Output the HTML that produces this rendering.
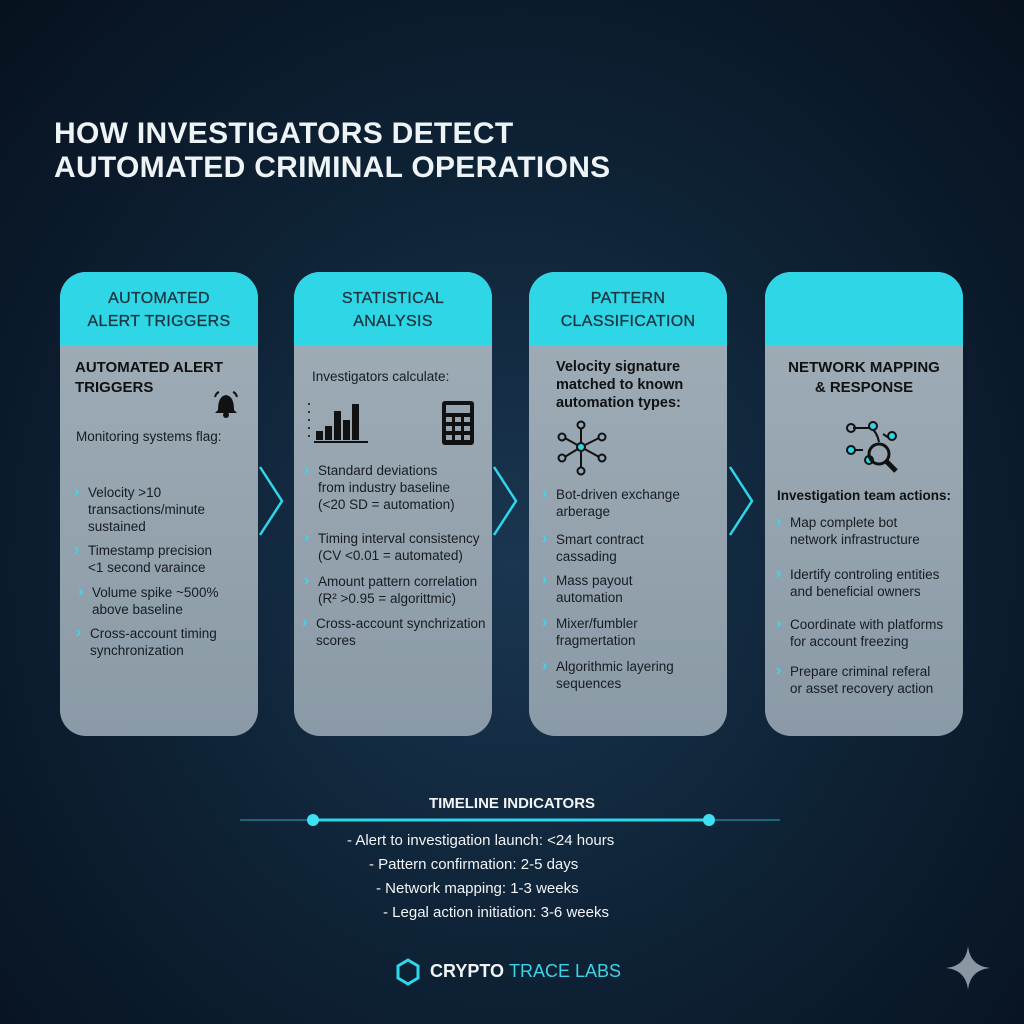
<!DOCTYPE html>
<html><head><meta charset="utf-8"><style>
*{margin:0;padding:0;box-sizing:border-box}
body{width:1024px;height:1024px;overflow:hidden;position:relative;font-family:"Liberation Sans",sans-serif;
background:radial-gradient(ellipse at 50% 55%,#1a3650 0%,#0f2438 45%,#07111e 100%);}
.t{position:absolute;white-space:nowrap}
.title{left:54px;color:#eef3f6;font-size:30px;font-weight:bold;letter-spacing:0.3px}
.card{position:absolute;top:272px;width:198px;height:464px;border-radius:26px;overflow:hidden;
background:linear-gradient(180deg,#a0aeb8 0%,#93a2ad 60%,#8a9aa6 100%)}
.hd{position:absolute;left:0;top:0;width:100%;height:73px;background:#2fd6e6;color:#1a3541;font-size:16px;text-align:center;line-height:23px;padding-top:15px;letter-spacing:.3px;-webkit-text-stroke:0.3px #1a3541}
.b{position:absolute;font-size:13.5px;color:#161c22;line-height:17px}
.b:before{content:"›";position:absolute;left:-14px;top:-1px;color:#3ad8f0;font-weight:bold;font-size:16px}
.n{position:absolute;font-size:13.5px;color:#161c22;line-height:17px}
.h{position:absolute;font-size:15px;font-weight:bold;color:#111;line-height:20px}
.tl{position:absolute;color:#f2f4f6;font-size:15px}
</style></head><body>
<div class="t title" style="top:117px">HOW INVESTIGATORS DETECT</div>
<div class="t title" style="top:151px">AUTOMATED CRIMINAL OPERATIONS</div>

<div class="card" style="left:60px">
 <div class="hd">AUTOMATED<br>ALERT TRIGGERS</div>
 <div class="h" style="left:15px;top:86px">AUTOMATED ALERT<br>TRIGGERS</div>
 <svg style="position:absolute;left:150px;top:116px" width="32" height="32" viewBox="0 0 32 32"><path d="M8 22 Q8 8 16 7 Q24 8 24 22 L27 25 L5 25 Z" fill="#111"/><circle cx="16" cy="27" r="3" fill="#111"/><path d="M5 9 Q6 5 9 4 M27 9 Q26 5 23 4" stroke="#111" stroke-width="2" fill="none"/></svg>
 <div class="n" style="left:16px;top:156px">Monitoring systems flag:</div>
 <div class="b" style="left:28px;top:212px">Velocity &gt;10<br>transactions/minute<br>sustained</div>
 <div class="b" style="left:28px;top:270px">Timestamp precision<br>&lt;1 second varaince</div>
 <div class="b" style="left:32px;top:312px">Volume spike ~500%<br>above baseline</div>
 <div class="b" style="left:30px;top:353px">Cross-account timing<br>synchronization</div>
</div>

<div class="card" style="left:294px">
 <div class="hd">STATISTICAL<br>ANALYSIS</div>
 <div class="n" style="left:18px;top:96px">Investigators calculate:</div>
 <svg style="position:absolute;left:12px;top:126px" width="62" height="48" viewBox="0 0 62 48"><g fill="#111"><rect x="10" y="33" width="7" height="9"/><rect x="19" y="28" width="7" height="14"/><rect x="28" y="13" width="7" height="29"/><rect x="37" y="22" width="7" height="20"/><rect x="46" y="6" width="7" height="36"/><rect x="8" y="43" width="56" height="2"/><circle cx="3" cy="6" r="1"/><circle cx="3" cy="14" r="1"/><circle cx="3" cy="22" r="1"/><circle cx="3" cy="30" r="1"/><circle cx="3" cy="38" r="1"/></g></svg>
 <svg style="position:absolute;left:147px;top:128px" width="34" height="46" viewBox="0 0 34 46"><rect x="1" y="1" width="32" height="44" rx="3" fill="#111"/><rect x="5" y="5" width="24" height="8" fill="#95a4af"/><g fill="#95a4af"><rect x="5" y="17" width="6" height="5"/><rect x="14" y="17" width="6" height="5"/><rect x="23" y="17" width="6" height="5"/><rect x="5" y="26" width="6" height="5"/><rect x="14" y="26" width="6" height="5"/><rect x="23" y="26" width="6" height="5"/><rect x="5" y="35" width="6" height="5"/><rect x="14" y="35" width="6" height="5"/><rect x="23" y="35" width="6" height="5"/></g></svg>
 <div class="b" style="left:24px;top:190px">Standard deviations<br>from industry baseline<br>(&lt;20 SD = automation)</div>
 <div class="b" style="left:24px;top:258px">Timing interval consistency<br>(CV &lt;0.01 = automated)</div>
 <div class="b" style="left:24px;top:301px">Amount pattern correlation<br>(R² &gt;0.95 = algorittmic)</div>
 <div class="b" style="left:22px;top:343px">Cross-account synchrization<br>scores</div>
</div>

<div class="card" style="left:529px">
 <div class="hd">PATTERN<br>CLASSIFICATION</div>
 <div class="h" style="left:27px;top:86px;font-size:14.5px;line-height:18px">Velocity signature<br>matched to known<br>automation types:</div>
 <svg style="position:absolute;left:28px;top:148px" width="54" height="56" viewBox="0 0 54 56"><g stroke="#111" stroke-width="2" fill="none"><line x1="24" y1="27" x2="24" y2="6"/><line x1="24" y1="27" x2="24" y2="50"/><line x1="24" y1="27" x2="6" y2="17"/><line x1="24" y1="27" x2="44" y2="17"/><line x1="24" y1="27" x2="6" y2="38"/><line x1="24" y1="27" x2="44" y2="38"/><circle cx="24" cy="5" r="3.5" fill="#95a4af"/><circle cx="24" cy="51" r="3.5" fill="#95a4af"/><circle cx="5" cy="17" r="3.5" fill="#95a4af"/><circle cx="45" cy="17" r="3.5" fill="#95a4af"/><circle cx="5" cy="38" r="3.5" fill="#95a4af"/><circle cx="45" cy="38" r="3.5" fill="#95a4af"/><circle cx="24" cy="27" r="4" fill="#2fd6e6"/></g></svg>
 <div class="b" style="left:27px;top:214px">Bot-driven exchange<br>arberage</div>
 <div class="b" style="left:27px;top:259px">Smart contract<br>cassading</div>
 <div class="b" style="left:27px;top:300px">Mass payout<br>automation</div>
 <div class="b" style="left:27px;top:343px">Mixer/fumbler<br>fragmertation</div>
 <div class="b" style="left:27px;top:386px">Algorithmic layering<br>sequences</div>
</div>

<div class="card" style="left:765px">
 <div class="hd"></div>
 <div class="h" style="left:0;width:198px;text-align:center;top:86px">NETWORK MAPPING<br>&amp; RESPONSE</div>
 <svg style="position:absolute;left:78px;top:148px" width="64" height="60" viewBox="0 0 64 60"><g stroke="#111" stroke-width="2" fill="none"><line x1="10" y1="8" x2="28" y2="8"/><line x1="10" y1="30" x2="20" y2="30"/><path d="M28 8 Q34 12 36 22"/><line x1="40" y1="14" x2="46" y2="18"/><circle cx="8" cy="8" r="4"/><circle cx="30" cy="6" r="4" fill="#2fd6e6"/><circle cx="49" cy="16" r="4" fill="#2fd6e6"/><circle cx="8" cy="30" r="4" fill="#2fd6e6"/><circle cx="26" cy="40" r="4" fill="#2fd6e6"/><circle cx="36" cy="34" r="10" stroke-width="3"/><line x1="43" y1="41" x2="53" y2="51" stroke-width="5"/></g></svg>
 <div class="h" style="left:12px;top:214px;font-size:13.5px">Investigation team actions:</div>
 <div class="b" style="left:25px;top:242px">Map complete bot<br>network infrastructure</div>
 <div class="b" style="left:25px;top:294px">Idertify controling entities<br>and beneficial owners</div>
 <div class="b" style="left:25px;top:344px">Coordinate with platforms<br>for account freezing</div>
 <div class="b" style="left:25px;top:391px">Prepare criminal referal<br>or asset recovery action</div>
</div>

<svg style="position:absolute;left:0;top:0" width="1024" height="1024">
 <g stroke="#2fd6ea" stroke-width="2.5" fill="none">
  <polyline points="260,467 282,501 260,535"/>
  <polyline points="494,467 516,501 494,535"/>
  <polyline points="730,467 752,501 730,535"/>
 </g>
 <line x1="240" y1="820" x2="780" y2="820" stroke="#2fd6ea" stroke-width="1.5" opacity=".5"/>
 <line x1="312" y1="820" x2="710" y2="820" stroke="#2fd6ea" stroke-width="3"/>
 <circle cx="313" cy="820" r="6" fill="#3ee0f2"/>
 <circle cx="709" cy="820" r="6" fill="#3ee0f2"/>
 <polygon points="408,960 418,966 418,978 408,984 398,978 398,966" fill="none" stroke="#2fd6ea" stroke-width="3"/>
 <path d="M968 946 Q970 966 990 968 Q970 970 968 990 Q966 970 946 968 Q966 966 968 946Z" fill="#8a96a2"/>
</svg>

<div class="tl" style="left:0;width:1024px;text-align:center;top:795px;font-weight:bold;font-size:15px">TIMELINE INDICATORS</div>
<div class="tl t" style="left:347px;top:832px">- Alert to investigation launch: &lt;24 hours</div>
<div class="tl t" style="left:369px;top:856px">- Pattern confirmation: 2-5 days</div>
<div class="tl t" style="left:376px;top:880px">- Network mapping: 1-3 weeks</div>
<div class="tl t" style="left:383px;top:904px">- Legal action initiation: 3-6 weeks</div>
<div class="t" style="left:430px;top:961px;font-size:18px;font-weight:bold;color:#f0f4f6">CRYPTO <span style="color:#3fd3e6;font-weight:normal">TRACE LABS</span></div>
</body></html>
